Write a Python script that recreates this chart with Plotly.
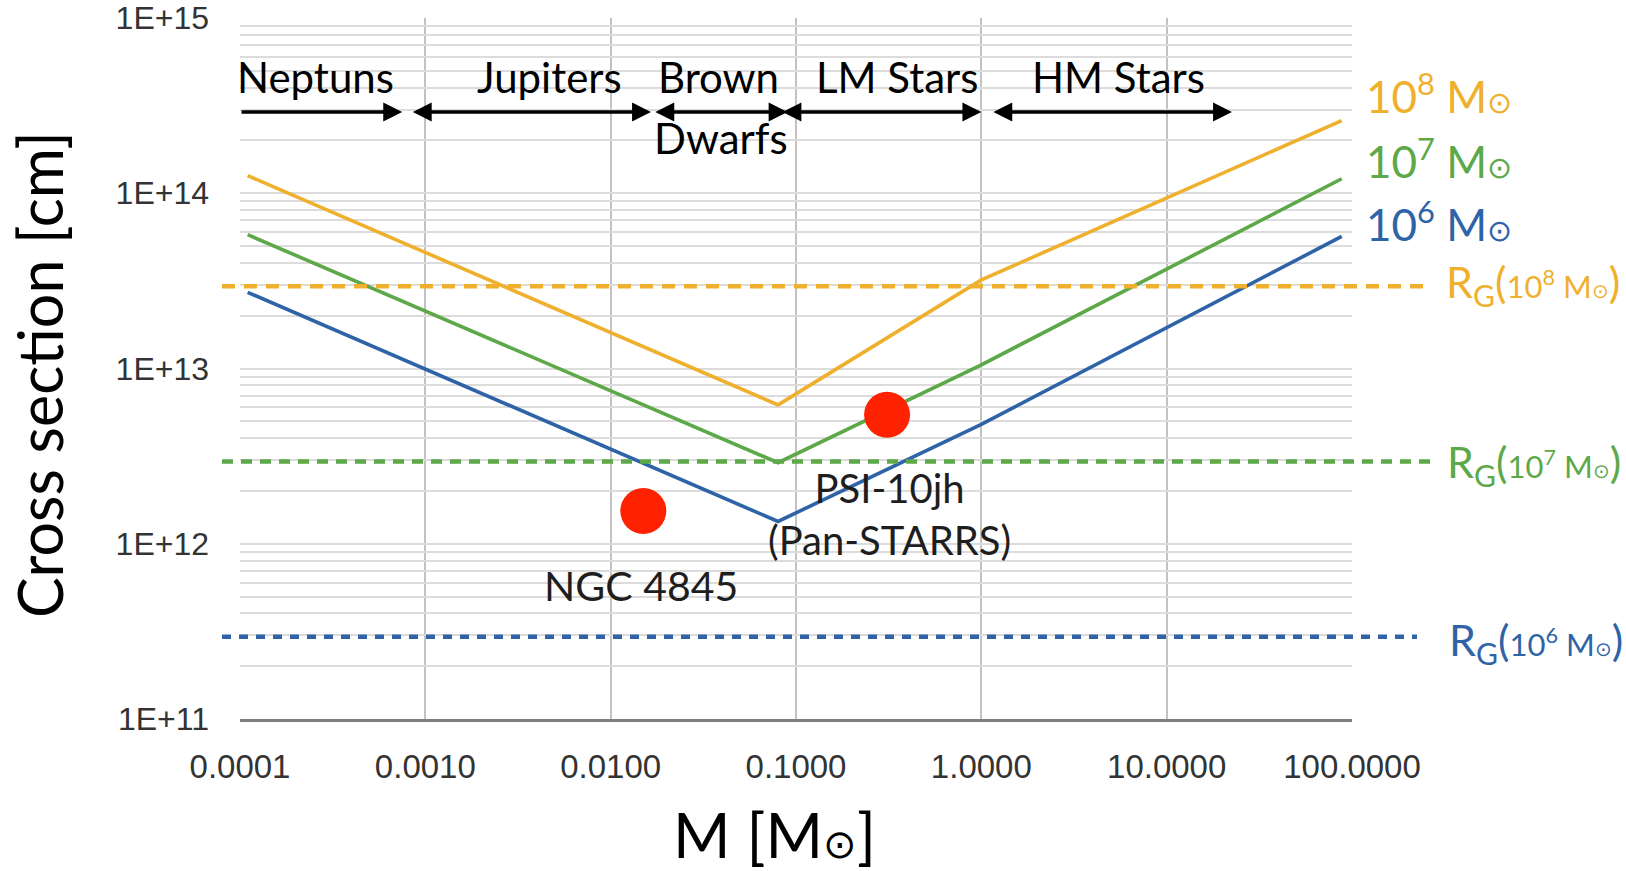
import math
import plotly.graph_objects as go

# Stellar / planetary mass grid of the cross-section curves [M_sun]
mass = [1.1e-4, 0.08, 1.0, 88.0]

# Cross section [cm] for three black-hole masses
sigma_1e8 = [1.26e14, 6.2e12, 3.2e13, 2.6e14]
sigma_1e7 = [5.8e13, 2.9e12, 1.05e13, 1.21e14]
sigma_1e6 = [2.72e13, 1.34e12, 4.8e12, 5.67e13]

# Gravitational radius R_G of each black hole [cm]
rg_values = [2.95e13, 2.95e12, 2.95e11]

# Observed events
event_names = ["NGC 4845", "PSI-10jh<br>(Pan-STARRS)"]
event_mass = [0.015, 0.31]
event_sigma = [1.54e12, 5.45e12]

# Object classes along the mass axis [M_sun]
class_names = ["Neptuns", "Jupiters", "Brown", "LM Stars", "HM Stars"]
class_lo = [1.0e-4, 8.4e-4, 0.0171, 0.083, 1.14]
class_hi = [7.5e-4, 0.0165, 0.090, 1.0, 22.5]

# Axis ticks
x_ticks = [1e-4, 1e-3, 1e-2, 1e-1, 1.0, 10.0, 100.0]
x_ticktext = ["0.0001", "0.0010", "0.0100", "0.1000", "1.0000", "10.0000", "100.0000"]
y_major = [1e11, 1e12, 1e13, 1e14, 1e15]
y_major_text = ["1E+11", "1E+12", "1E+13", "1E+14", "1E+15"]

ORANGE = "#EFB02E"
GREEN = "#5DA849"
BLUE = "#2F63A8"
RED = "#FF2200"
TEXT = "#1E1E1E"

W, H = 1626, 871
L, R, T, B = 240, 274, 18, 152
PW, PH = W - L - R, H - T - B


def px(x):
    return (x - L) / PW


def py(y):
    return (H - B - y) / PH


fig = go.Figure()

for ys, col in [(sigma_1e8, ORANGE), (sigma_1e7, GREEN), (sigma_1e6, BLUE)]:
    fig.add_trace(go.Scatter(x=mass, y=ys, mode="lines",
                             line=dict(color=col, width=3.6),
                             hoverinfo="skip", showlegend=False))

fig.add_trace(go.Scatter(x=event_mass, y=event_sigma, mode="markers",
                         marker=dict(color=RED, size=46, line=dict(width=0)),
                         showlegend=False))

# dashed R_G levels, running past the plot frame into the label column
rg_colors = [ORANGE, GREEN, BLUE]
rg_dash = ["13px,9px", "11px,8px", "9px,8px"]
rg_end = [1430, 1437, 1417]
for val, col, dsh, xe in zip(rg_values, rg_colors, rg_dash, rg_end):
    fig.add_shape(type="line", xref="paper", yref="y",
                  x0=px(222), x1=px(xe), y0=val, y1=val,
                  line=dict(color=col, width=4.5, dash=dsh), layer="above")

ann = []

# class range arrows
arrow_y = 14.4636
label_shift = [-6, 18, -2, 16, 7]
for i, (name, lo, hi) in enumerate(zip(class_names, class_lo, class_hi)):
    double = i > 0
    ann.append(dict(xref="x", yref="y", axref="x", ayref="y",
                    x=math.log10(hi), y=arrow_y,
                    ax=math.log10(lo), ay=arrow_y,
                    text="", showarrow=True,
                    arrowhead=2, startarrowhead=2, arrowsize=1.05, startarrowsize=1.05,
                    arrowwidth=3.6, arrowcolor="#000000",
                    arrowside="end+start" if double else "end",
                    standoff=0, startstandoff=0))
    mid = 0.5 * (math.log10(lo) + math.log10(hi))
    ann.append(dict(xref="x", yref="paper", x=mid, y=py(77),
                    xshift=label_shift[i], text=name, showarrow=False,
                    xanchor="center", yanchor="middle",
                    font=dict(family="Lato", size=42, color="#000000")))
ann.append(dict(xref="x", yref="paper",
                x=0.5 * (math.log10(class_lo[2]) + math.log10(class_hi[2])),
                y=py(138), text="Dwarfs", showarrow=False,
                xanchor="center", yanchor="middle",
                font=dict(family="Lato", size=42, color="#000000")))

# event labels
ann.append(dict(xref="paper", yref="paper", x=px(641), y=py(585),
                text=event_names[0], showarrow=False,
                xanchor="center", yanchor="middle",
                font=dict(family="Lato", size=41, color=TEXT)))
ann.append(dict(xref="paper", yref="paper", x=px(889), y=py(514),
                text=event_names[1], showarrow=False, align="center",
                xanchor="center", yanchor="middle",
                font=dict(family="Lato", size=40, color=TEXT)))

# black-hole mass labels for the curves
for exp, col, yc in [(8, ORANGE, 93), (7, GREEN, 158), (6, BLUE, 222)]:
    ann.append(dict(xref="paper", yref="paper", x=px(1364), y=py(yc),
                    text=(f"10<sup>{exp}</sup> M"
                          f"<span style='font-size:30px'>⊙</span>"),
                    showarrow=False, xanchor="left", yanchor="middle",
                    font=dict(family="Lato", size=44, color=col)))

# R_G labels
for exp, col, yc, xl in [(8, ORANGE, 284, 1444), (7, GREEN, 464, 1445), (6, BLUE, 642, 1447)]:
    ann.append(dict(xref="paper", yref="paper", x=px(xl), y=py(yc),
                    text=(f"R<sub>G</sub>(<span style='font-size:31px'>10<sup>{exp}</sup>"
                          f" M<span style='font-size:20px'>⊙</span></span>)"),
                    showarrow=False, xanchor="left", yanchor="middle",
                    font=dict(family="Lato", size=43, color=col)))

# axis titles
ann.append(dict(xref="paper", yref="paper", x=px(774), y=py(834),
                text="M [M<span style='font-size:40px'>⊙</span>]", showarrow=False,
                xanchor="center", yanchor="middle",
                font=dict(family="Lato", size=62, color="#000000")))
ann.append(dict(xref="paper", yref="paper", x=px(39), y=py(375),
                text="Cross section [cm]", showarrow=False, textangle=-90,
                xanchor="center", yanchor="middle",
                font=dict(family="Lato", size=61, color="#000000")))

y_grid = [k * 10.0 ** n for n in range(11, 15) for k in range(1, 10)] + [1e15]
y_grid_text = [y_major_text[y_major.index(v)] if v in y_major else "" for v in y_grid]

fig.update_layout(
    width=W, height=H,
    margin=dict(l=L, r=R, t=T, b=B, pad=0, autoexpand=False),
    paper_bgcolor="white", plot_bgcolor="white",
    showlegend=False,
    annotations=ann,
    xaxis=dict(type="log", range=[-4, 2], automargin=False,
               tickmode="array", tickvals=x_ticks, ticktext=x_ticktext,
               showgrid=True, gridcolor="#C2C2C2", gridwidth=1.5,
               showline=True, linecolor="#7F7F7F", linewidth=3,
               ticks="", zeroline=False, ticklabelstandoff=16,
               tickfont=dict(family="Liberation Sans", size=33, color="#333333")),
    yaxis=dict(type="log", range=[11, 15], automargin=False,
               tickmode="array", tickvals=y_grid, ticktext=y_grid_text,
               showgrid=True, gridcolor="#DCDCDC", gridwidth=2,
               showline=False, ticks="", zeroline=False, ticklabelstandoff=30,
               tickfont=dict(family="Liberation Sans", size=32, color="#333333")),
)

fig.write_html("out.html")
